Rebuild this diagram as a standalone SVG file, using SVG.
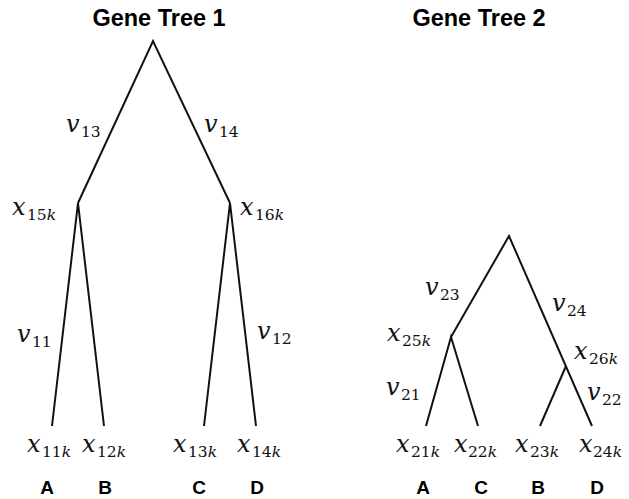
<svg xmlns="http://www.w3.org/2000/svg" width="629" height="499" viewBox="0 0 629 499">
<style>
.t{font-family:"Liberation Sans",Arial,sans-serif;font-weight:bold;font-size:23.5px;fill:#000;text-anchor:middle}
.l{font-family:"Liberation Sans",Arial,sans-serif;font-weight:bold;font-size:19px;fill:#000;text-anchor:middle}
.m{font-family:"DejaVu Serif","Liberation Serif",serif;font-style:italic;font-size:24px;fill:#111}
.s{font-family:"DejaVu Serif","Liberation Serif",serif;font-size:15.5px;fill:#111}
.k{font-style:italic}
.e{stroke:#111;stroke-width:2;fill:none;stroke-linejoin:miter}
</style>
<rect width="629" height="499" fill="#fff"/>
<text class="t" x="159" y="26">Gene Tree 1</text>
<text class="t" x="479" y="26">Gene Tree 2</text>
<g id="connectors">
<polyline class="e" points="78,203 153,41 230,203"/>
<polyline class="e" points="52,426 78,203 104,426"/>
<polyline class="e" points="204,426 230,203 256,426"/>
<polyline class="e" points="451,337 509,236 592,426"/>
<polyline class="e" points="426,426 451,337 478,426"/>
<line class="e" x1="540" y1="426" x2="566" y2="366"/>
</g>
<g id="tree1-labels">
<g id="v13"><text class="m" x="66" y="132">v</text><text class="s" x="81" y="137">13</text></g>
<g id="v14"><text class="m" x="204" y="132">v</text><text class="s" x="219" y="137">14</text></g>
<g id="x15k"><text class="m" x="12" y="215">x</text><text class="s" x="27" y="220">15<tspan class="k">k</tspan></text></g>
<g id="x16k"><text class="m" x="240" y="215">x</text><text class="s" x="255" y="220">16<tspan class="k">k</tspan></text></g>
<g id="v11"><text class="m" x="17" y="342">v</text><text class="s" x="32" y="347">11</text></g>
<g id="v12"><text class="m" x="257" y="339">v</text><text class="s" x="272" y="344">12</text></g>
<g id="x11k"><text class="m" x="27" y="452">x</text><text class="s" x="42" y="457">11<tspan class="k">k</tspan></text></g>
<g id="x12k"><text class="m" x="82" y="452">x</text><text class="s" x="97" y="457">12<tspan class="k">k</tspan></text></g>
<g id="x13k"><text class="m" x="173" y="452">x</text><text class="s" x="188" y="457">13<tspan class="k">k</tspan></text></g>
<g id="x14k"><text class="m" x="237" y="452">x</text><text class="s" x="252" y="457">14<tspan class="k">k</tspan></text></g>
<text class="l" x="47" y="494">A</text>
<text class="l" x="105" y="494">B</text>
<text class="l" x="199" y="494">C</text>
<text class="l" x="257" y="494">D</text>
</g>
<g id="tree2-labels">
<g id="v23"><text class="m" x="425" y="295">v</text><text class="s" x="440" y="300">23</text></g>
<g id="v24"><text class="m" x="552" y="311">v</text><text class="s" x="567" y="316">24</text></g>
<g id="x25k"><text class="m" x="387" y="341">x</text><text class="s" x="402" y="346">25<tspan class="k">k</tspan></text></g>
<g id="x26k"><text class="m" x="574" y="359">x</text><text class="s" x="589" y="364">26<tspan class="k">k</tspan></text></g>
<g id="v21"><text class="m" x="386" y="395">v</text><text class="s" x="401" y="400">21</text></g>
<g id="v22"><text class="m" x="587" y="400">v</text><text class="s" x="602" y="405">22</text></g>
<g id="x21k"><text class="m" x="396" y="452">x</text><text class="s" x="411" y="457">21<tspan class="k">k</tspan></text></g>
<g id="x22k"><text class="m" x="454" y="452">x</text><text class="s" x="468" y="457">22<tspan class="k">k</tspan></text></g>
<g id="x23k"><text class="m" x="515" y="452">x</text><text class="s" x="530" y="457">23<tspan class="k">k</tspan></text></g>
<g id="x24k"><text class="m" x="579" y="452">x</text><text class="s" x="593" y="457">24<tspan class="k">k</tspan></text></g>
<text class="l" x="423" y="494">A</text>
<text class="l" x="481" y="494">C</text>
<text class="l" x="538" y="494">B</text>
<text class="l" x="597" y="494">D</text>
</g>
</svg>
